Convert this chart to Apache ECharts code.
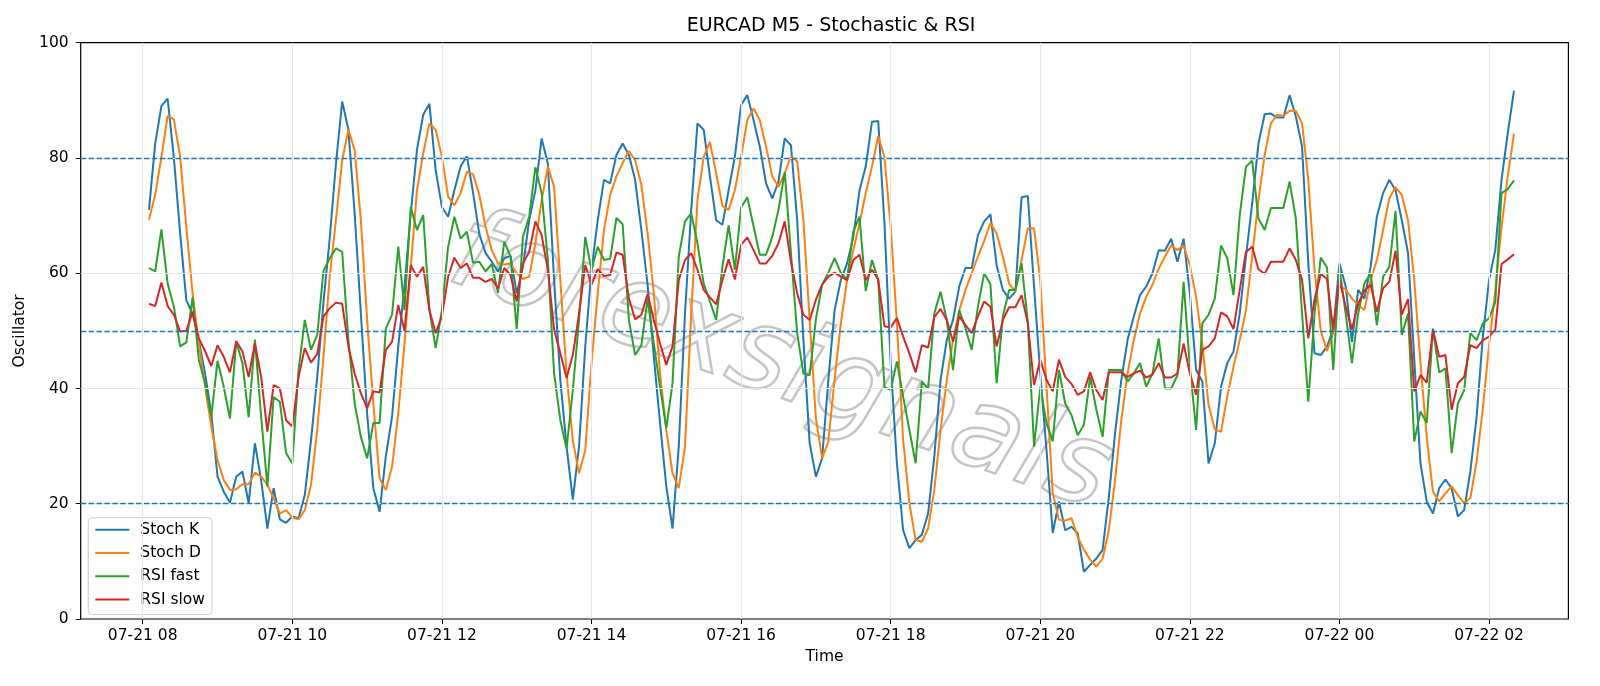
<!DOCTYPE html>
<html>
<head>
<meta charset="utf-8">
<script src="https://cdn.jsdelivr.net/npm/echarts@6/dist/echarts.min.js"></script>
<style>
  html, body { margin: 0; padding: 0; background: #fff; }
  #main { width: 1600px; height: 686px; }
</style>
</head>
<body>
<div id="main"></div>
<script>
// M5 bars, first bar 07-21 08:05 (minutes counted from 07-21 00:00)
const startMinute = 485;
const stepMinutes = 5;

const tickLabels = ['07-21 08', '07-21 10', '07-21 12', '07-21 14', '07-21 16', '07-21 18',
  '07-21 20', '07-21 22', '07-22 00', '07-22 02'];
const yTicks = [0, 20, 40, 60, 80, 100];
const levelLines = [20, 50, 80];

const stochK = [
  71.0, 82.5, 89.0, 90.3, 80.0, 67.0, 55.3, 53.0, 48.4, 42.6, 35.7, 24.7, 22.1, 20.2, 24.7, 25.6, 20.1, 30.5, 24.1, 15.7,
  22.7, 17.3, 16.7, 17.8, 17.5, 21.5, 31.0, 42.0, 55.0, 66.0, 79.0, 89.8, 84.9, 70.4, 53.0, 35.7, 22.7, 18.6, 28.2, 35.1,
  47.3, 57.7, 70.4, 81.4, 87.5, 89.4, 77.9, 71.5, 69.8, 74.4, 78.5, 80.3, 74.0, 66.8, 63.5, 62.0, 60.3, 62.6, 63.0, 56.5,
  61.1, 69.2, 74.4, 83.4, 79.0, 58.8, 41.5, 29.9, 20.7, 29.9, 47.3, 60.6, 69.2, 76.2, 75.6, 80.5, 82.5, 80.5, 76.2, 67.5,
  58.0, 45.5, 34.0, 23.0, 15.7, 29.9, 53.0, 71.0, 86.0, 84.9, 76.8, 69.2, 68.4, 74.4, 80.2, 89.2, 90.9, 86.6, 82.0, 75.6,
  73.0, 75.9, 83.4, 82.2, 69.2, 48.4, 30.5, 24.7, 27.9, 41.5, 53.6, 58.8, 61.7, 66.3, 74.4, 78.5, 86.3, 86.4, 68.7, 44.4,
  27.0, 15.4, 12.3, 13.7, 14.6, 18.3, 28.2, 41.5, 48.4, 51.9, 57.7, 60.9, 60.9, 66.6, 69.0, 70.2, 61.4, 57.1, 55.6, 56.8,
  73.2, 73.4, 57.7, 42.6, 29.3, 14.9, 20.4, 15.4, 16.0, 14.9, 8.2, 9.4, 10.5, 12.0, 21.2, 32.2, 41.5, 48.4, 52.5, 56.2,
  57.7, 60.0, 64.0, 63.9, 66.0, 62.0, 66.0, 56.5, 43.2, 41.2, 27.0, 30.5, 40.3, 44.4, 46.4, 53.0, 62.9, 72.1, 82.5, 87.6,
  87.7, 87.0, 87.0, 90.9, 87.2, 82.0, 61.7, 46.1, 45.8, 47.3, 50.2, 61.7, 57.7, 48.1, 57.1, 55.6, 61.1, 69.8, 73.9, 76.2,
  74.4, 69.2, 63.5, 45.0, 27.0, 20.4, 18.3, 22.7, 24.2, 22.7, 17.8, 18.9, 25.6, 35.0, 49.0, 58.8, 64.0, 76.2, 84.3, 91.7
];
const stochD = [
  69.3, 73.6, 80.2, 87.3, 86.7, 80.2, 68.0, 56.5, 47.8, 40.3, 33.4, 27.6, 24.1, 22.4, 22.5, 23.4, 23.4, 25.4, 24.7, 23.3,
  21.0, 18.3, 18.9, 17.6, 17.3, 18.9, 23.3, 32.8, 45.5, 59.4, 69.2, 79.6, 84.9, 81.4, 69.2, 51.9, 37.4, 24.4, 22.4, 26.4,
  35.7, 47.8, 61.1, 74.4, 80.8, 86.0, 84.9, 80.2, 73.3, 71.8, 73.9, 77.6, 77.2, 73.6, 68.1, 64.0, 61.7, 61.5, 61.7, 60.0,
  59.0, 59.4, 65.2, 72.7, 78.5, 75.0, 58.8, 42.6, 31.0, 25.3, 29.3, 44.4, 56.5, 67.5, 73.6, 76.8, 79.1, 81.2, 79.6, 75.3,
  66.9, 56.5, 42.6, 32.8, 25.3, 22.7, 29.9, 53.0, 72.7, 80.2, 82.8, 77.3, 71.7, 71.0, 74.4, 80.2, 86.6, 88.6, 86.6, 82.0,
  76.8, 75.0, 77.3, 80.3, 79.4, 69.2, 51.9, 34.8, 27.9, 30.8, 41.5, 51.3, 58.8, 64.0, 68.7, 73.9, 78.5, 83.8, 80.2, 68.1,
  51.3, 31.1, 20.1, 13.7, 13.4, 15.7, 22.4, 32.8, 41.5, 48.4, 53.6, 57.1, 60.0, 62.9, 65.6, 68.7, 66.9, 62.9, 58.2, 56.8,
  62.3, 67.8, 67.8, 58.8, 40.3, 21.8, 17.2, 17.1, 17.5, 14.3, 12.0, 10.3, 9.1, 10.5, 15.4, 24.1, 34.5, 42.6, 48.4, 53.0,
  55.9, 58.0, 60.8, 62.9, 64.8, 64.0, 64.8, 61.4, 55.9, 47.8, 37.1, 32.9, 32.5, 38.6, 43.8, 48.4, 53.6, 62.9, 72.7, 80.5,
  86.0, 87.5, 87.3, 88.2, 88.2, 86.0, 76.2, 60.6, 50.0, 46.5, 49.6, 57.7, 57.2, 55.6, 54.5, 53.6, 58.8, 62.3, 67.5, 73.0,
  74.9, 73.6, 69.2, 58.8, 44.4, 31.6, 22.1, 20.4, 21.8, 23.0, 21.5, 20.1, 21.0, 27.3, 36.5, 47.5, 57.0, 68.0, 76.8, 84.2
];
const rsiFast = [
  60.9, 60.3, 67.6, 58.2, 54.2, 47.3, 48.0, 55.8, 45.0, 40.9, 35.1, 44.8, 40.3, 34.8, 48.1, 44.4, 35.0, 48.5, 35.1, 23.0,
  38.5, 37.7, 28.8, 27.0, 43.2, 51.9, 46.7, 49.3, 60.4, 62.6, 64.3, 63.7, 48.4, 37.4, 31.6, 27.9, 34.0, 34.0, 50.4, 52.8,
  64.6, 53.6, 71.5, 67.5, 70.1, 53.6, 47.0, 53.6, 64.6, 69.8, 66.0, 67.2, 61.8, 62.0, 60.3, 61.6, 56.6, 65.5, 62.9, 50.3,
  66.3, 69.8, 78.4, 73.9, 62.3, 42.6, 34.5, 29.6, 39.7, 51.9, 66.3, 60.6, 64.6, 62.3, 62.5, 69.6, 68.5, 51.9, 45.8, 47.5,
  55.6, 47.8, 40.3, 33.1, 40.9, 62.9, 69.0, 70.4, 65.2, 58.2, 55.1, 51.9, 61.1, 68.3, 60.6, 71.4, 73.2, 68.1, 63.2, 63.2,
  66.3, 71.0, 77.6, 63.5, 49.6, 42.6, 42.3, 52.0, 58.0, 60.1, 62.6, 60.1, 58.9, 67.2, 69.8, 56.9, 62.3, 58.8, 40.3, 39.7,
  44.7, 38.6, 32.8, 27.0, 41.2, 40.0, 53.0, 56.8, 51.9, 43.2, 53.6, 50.4, 46.7, 54.2, 60.0, 58.1, 40.9, 52.5, 57.1, 57.1,
  61.7, 51.6, 29.9, 40.3, 34.0, 30.8, 43.2, 37.4, 35.4, 31.9, 33.7, 42.0, 36.3, 31.6, 43.2, 43.2, 43.2, 41.2, 42.6, 44.4,
  40.3, 42.6, 48.7, 40.0, 40.0, 42.3, 58.5, 43.8, 32.8, 51.3, 52.8, 55.6, 64.8, 62.6, 56.2, 70.1, 78.5, 79.5, 69.5, 67.5,
  71.3, 71.3, 71.3, 75.9, 69.5, 53.0, 37.7, 53.0, 62.7, 61.0, 43.2, 60.9, 53.0, 44.4, 53.0, 58.2, 60.0, 51.0, 59.4, 61.1,
  70.8, 49.3, 53.0, 30.8, 36.0, 34.0, 50.4, 42.8, 43.5, 28.8, 37.4, 39.7, 49.6, 48.4, 51.3, 52.2, 55.0, 73.9, 74.6, 76.1
];
const rsiSlow = [
  54.7, 54.3, 58.4, 54.3, 52.8, 49.9, 50.0, 53.3, 48.7, 46.5, 43.9, 47.5, 45.5, 42.8, 48.2, 46.4, 42.0, 47.8, 42.0, 32.5,
  40.6, 40.0, 34.5, 33.4, 42.0, 47.0, 44.5, 46.0, 52.5, 53.9, 54.9, 54.7, 47.3, 42.6, 39.2, 36.6, 39.5, 39.3, 46.7, 48.1,
  54.5, 50.0, 61.4, 59.4, 61.1, 53.6, 49.6, 52.5, 59.4, 62.7, 60.9, 61.7, 59.2, 59.2, 58.5, 59.0, 57.4, 60.9, 59.7, 55.1,
  61.7, 63.7, 69.0, 66.6, 60.6, 50.2, 46.1, 41.8, 45.8, 53.0, 61.4, 58.0, 60.7, 59.5, 59.7, 63.6, 63.2, 55.6, 52.0, 52.8,
  56.4, 51.9, 47.8, 44.1, 47.3, 58.8, 62.3, 63.5, 60.6, 57.1, 55.8, 54.6, 58.8, 62.4, 58.9, 64.9, 66.2, 64.0, 61.7, 61.7,
  63.0, 65.2, 69.0, 62.0, 56.5, 52.8, 51.9, 55.4, 58.0, 59.4, 60.1, 59.4, 58.8, 62.3, 63.2, 58.8, 60.6, 58.9, 50.8, 50.6,
  52.2, 49.0, 46.1, 42.8, 47.5, 47.1, 52.4, 53.8, 51.9, 48.1, 52.5, 51.0, 49.6, 52.5, 55.1, 54.2, 47.3, 51.9, 54.1, 54.1,
  56.2, 51.3, 40.6, 45.0, 41.5, 39.5, 45.0, 42.0, 40.8, 38.9, 39.5, 42.8, 39.7, 38.0, 42.8, 42.8, 42.8, 42.0, 42.6, 43.1,
  41.9, 42.4, 44.4, 41.9, 41.9, 42.6, 47.8, 42.6, 38.9, 46.7, 47.3, 48.7, 53.2, 52.5, 50.3, 57.1, 63.7, 64.6, 60.7, 59.9,
  62.0, 62.0, 62.0, 64.3, 62.3, 58.8, 48.7, 55.4, 59.9, 59.0, 50.2, 58.9, 54.2, 50.3, 54.7, 57.0, 58.0, 53.3, 57.4, 58.5,
  63.9, 52.8, 55.5, 39.5, 42.3, 41.0, 50.2, 45.5, 45.8, 36.3, 40.9, 42.0, 47.5, 47.0, 48.4, 49.0, 50.2, 61.6, 62.4, 63.3
];

const FONT = 'DejaVu Sans';
const colors = ['#1f77b4', '#ff7f0e', '#2ca02c', '#d62728'];
const gridColor = '#e6e6e6';

// tick label "07-DD HH" -> minutes since 07-21 00:00
const labelToMinute = (s) => {
  const day = parseInt(s.slice(3, 5), 10) - 21;
  const hour = parseInt(s.slice(6, 8), 10);
  return day * 1440 + hour * 60;
};
const tickMinutes = tickLabels.map(labelToMinute);
const minuteToLabel = (v) => {
  const idx = tickMinutes.indexOf(v);
  return idx >= 0 ? tickLabels[idx] : '';
};

const toPairs = (arr) => arr.map((v, i) => [startMinute + i * stepMinutes, v]);

const lineSeries = (name, arr, color) => ({
  name: name,
  type: 'line',
  data: toPairs(arr),
  symbol: 'none',
  showSymbol: false,
  z: 3,
  lineStyle: { color: color, width: 2 },
  itemStyle: { color: color },
  emphasis: { disabled: true },
  animation: false
});

// helper for the reference / grid lines drawn as markLines
const refLines = (name, z, lineStyle, data) => ({
  name: name,
  type: 'line',
  data: [],
  z: z,
  silent: true,
  markLine: {
    silent: true,
    symbol: 'none',
    label: { show: false },
    animation: false,
    lineStyle: lineStyle,
    data: data
  }
});

const chart = echarts.init(document.getElementById('main'), null, { renderer: 'canvas' });

chart.setOption({
  backgroundColor: '#ffffff',
  animation: false,
  textStyle: { fontFamily: FONT },
  grid: {
    left: 80.7, right: 31.6, top: 42.7, bottom: 67,
    show: true, borderColor: '#000000', borderWidth: 1.2, backgroundColor: 'transparent'
  },
  legend: {
    data: ['Stoch K', 'Stoch D', 'RSI fast', 'RSI slow'],
    orient: 'vertical',
    left: 88.3,
    top: 517.7,
    itemWidth: 34,
    itemHeight: 15,
    itemGap: 7.3,
    padding: [4, 7, 7, 6],
    backgroundColor: 'rgba(255,255,255,0.8)',
    borderColor: '#cccccc',
    borderWidth: 1,
    borderRadius: 4,
    itemStyle: { opacity: 0 },
    lineStyle: { width: 2 },
    textStyle: { fontFamily: FONT, fontSize: 15.5, color: '#000', padding: [0, 0, 0, 6] }
  },
  graphic: [
    {
      type: 'text',
      x: 831,
      y: 26,
      z: 10,
      style: {
        text: 'EURCAD M5 - Stochastic & RSI',
        font: '19px "DejaVu Sans"',
        fill: '#000',
        align: 'center',
        verticalAlign: 'middle'
      }
    },
    {
      // watermark
      type: 'text',
      x: 780, y: 366,
      rotation: -0.34,
      silent: true,
      z: 1,
      style: {
        text: 'forexsignals',
        font: 'italic 114px "DejaVu Sans"',
        fill: 'rgba(255,255,255,0)',
        stroke: 'rgba(150,150,150,0.55)',
        lineWidth: 2.5,
        align: 'center',
        verticalAlign: 'middle'
      }
    }
  ],
  xAxis: {
    type: 'value',
    min: 430.25,
    max: 1623.65,
    name: 'Time',
    nameLocation: 'middle',
    nameGap: 30,
    nameTextStyle: { fontFamily: FONT, fontSize: 15.5, color: '#000' },
    axisLine: { show: false },
    axisTick: { show: true, length: 5, customValues: tickMinutes, lineStyle: { color: '#000', width: 1 } },
    axisLabel: {
      show: true, customValues: tickMinutes, margin: 9,
      fontFamily: FONT, fontSize: 15.5, color: '#000',
      formatter: minuteToLabel
    },
    splitLine: { show: false }
  },
  yAxis: {
    type: 'value',
    min: 0,
    max: 100,
    interval: 20,
    name: 'Oscillator',
    nameLocation: 'middle',
    nameGap: 43,
    nameRotate: 90,
    nameTextStyle: { fontFamily: FONT, fontSize: 15.5, color: '#000' },
    axisLine: { show: false },
    axisTick: { show: true, length: 5, lineStyle: { color: '#000', width: 1 } },
    axisLabel: { margin: 12, fontFamily: FONT, fontSize: 15.5, color: '#000' },
    splitLine: { show: false }
  },
  series: [
    // light grid: vertical at the time ticks, horizontal at inner value ticks
    refLines('vgrid', 1, { color: gridColor, width: 1.2, type: 'solid' },
      tickMinutes.map(v => ({ xAxis: v }))),
    refLines('hgrid', 1, { color: gridColor, width: 1.2, type: 'solid' },
      yTicks.filter(v => v > 0 && v < 100).map(v => ({ yAxis: v }))),
    lineSeries('Stoch K', stochK, colors[0]),
    lineSeries('Stoch D', stochD, colors[1]),
    lineSeries('RSI fast', rsiFast, colors[2]),
    lineSeries('RSI slow', rsiSlow, colors[3]),
    // overbought / mid / oversold levels
    refLines('levels', 4, { color: '#1f77b4', width: 1.4, type: [5.5, 2.4] },
      levelLines.map(v => ({ yAxis: v })))
  ]
});
</script>
</body>
</html>
